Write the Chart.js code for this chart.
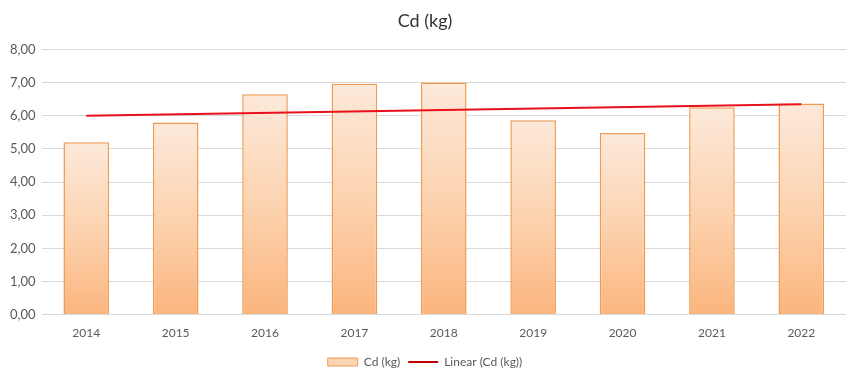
<!DOCTYPE html>
<html>
<head>
<meta charset="utf-8">
<script src="https://cdn.jsdelivr.net/npm/chart.js@4/dist/chart.umd.min.js"></script>
<style>
    html, body { margin: 0; padding: 0; background: #fff; }
    #wrap { width: 856px; height: 370px; }
</style>
</head>
<body>
<div id="wrap"><canvas id="cdChart"></canvas></div>
<script>
// Data
const years = ["2014", "2015", "2016", "2017", "2018", "2019", "2020", "2021", "2022"];
const cdValues = [5.20, 5.80, 6.65, 6.97, 7.01, 5.87, 5.48, 6.26, 6.37];
// trend line: only the two end points, joined straight across
const trendValues = [6.00, null, null, null, null, null, null, null, 6.35];
const yTicks = [0, 1, 2, 3, 4, 5, 6, 7, 8];

const fontName = "Lato, 'Open Sans', sans-serif";

// Each bar gets its own gradient, light at the top, orange at the base
function barGradient(context) {
    const chart = context.chart;
    const y = chart.scales.y;
    if (!chart.chartArea || !y || context.raw == null) {
        return '#fcd5b4';
    }
    const top = y.getPixelForValue(context.raw);
    const bottom = y.getPixelForValue(0);
    const g = chart.ctx.createLinearGradient(0, top, 0, bottom);
    g.addColorStop(0, '#fde9da');
    g.addColorStop(0.5, '#fcd3b0');
    g.addColorStop(1, '#fbb57e');
    return g;
}

new Chart(document.getElementById('cdChart'), {
    type: 'bar',
    data: {
        labels: years,
        datasets: [
            {
                type: 'bar',
                label: 'Cd (kg)',
                data: cdValues,
                backgroundColor: barGradient,
                borderColor: '#ee9a52',
                borderWidth: 1.5,
                categoryPercentage: 1,
                barPercentage: 0.51,
                order: 1
            },
            {
                type: 'line',
                label: 'Linear (Cd (kg))',
                data: trendValues,
                borderColor: '#e8101a',
                backgroundColor: '#c00000',
                borderWidth: 2,
                pointRadius: 0,
                spanGaps: true,
                tension: 0,
                order: 0
            }
        ]
    },
    options: {
        responsive: true,
        maintainAspectRatio: false,
        animation: false,
        layout: {
            padding: { left: 4, right: 10, top: 6, bottom: -8 }
        },
        plugins: {
            title: {
                display: true,
                text: 'Cd (kg)',
                color: '#333333',
                font: { family: fontName, size: 18, weight: 'normal' },
                padding: { top: 4, bottom: 18 }
            },
            legend: {
                position: 'bottom',
                labels: {
                    color: '#595959',
                    font: { family: fontName, size: 12 },
                    usePointStyle: true,
                    pointStyleWidth: 30,
                    boxHeight: 8,
                    padding: 8,
                    sort: (a, b) => a.datasetIndex - b.datasetIndex,
                    generateLabels: function (chart) {
                        const items = Chart.defaults.plugins.legend.labels.generateLabels(chart);
                        items.forEach((item) => {
                            if (item.datasetIndex === 0) {
                                item.pointStyle = 'rect';
                                item.fillStyle = '#fcd5b4';
                                item.strokeStyle = '#ee9a52';
                                item.lineWidth = 1;
                            } else {
                                item.pointStyle = 'line';
                                item.strokeStyle = '#c00000';
                                item.lineWidth = 2;
                            }
                        });
                        return items;
                    }
                }
            },
            tooltip: { enabled: false }
        },
        scales: {
            x: {
                grid: { display: false },
                border: { display: false },
                afterFit: function (axis) {
                    // leave a little more room between the year labels and the legend
                    axis.height += 5;
                },
                ticks: {
                    color: '#595959',
                    font: { family: fontName, size: 12 },
                    padding: 3
                }
            },
            y: {
                min: 0,
                max: 8,
                afterBuildTicks: function (axis) {
                    axis.ticks = yTicks.map((v) => ({ value: v }));
                },
                grid: { color: '#d9d9d9', lineWidth: 1, drawTicks: false },
                border: { display: false },
                ticks: {
                    color: '#595959',
                    font: { family: fontName, size: 13 },
                    padding: 6,
                    callback: function (value) {
                        return value.toFixed(2).replace('.', ',');
                    }
                }
            }
        }
    }
});
</script>
</body>
</html>
